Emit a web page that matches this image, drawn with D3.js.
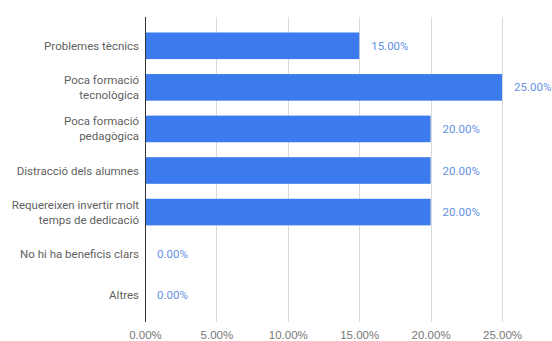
<!DOCTYPE html>
<html>
<head>
<meta charset="utf-8">
<script src="https://cdn.jsdelivr.net/npm/d3@7"></script>
<style>
  html, body { margin: 0; padding: 0; background: #fff; }
  svg { display: block; font-family: Roboto, "Noto Sans", sans-serif; }
</style>
</head>
<body>
<svg id="chart" width="552" height="341"></svg>
<script>
// Reasons / obstacles and the share of answers for each
const categories = [
  ["Problemes tècnics"],
  ["Poca formació", "tecnològica"],
  ["Poca formació", "pedagògica"],
  ["Distracció dels alumnes"],
  ["Requereixen invertir molt", "temps de dedicació"],
  ["No hi ha beneficis clars"],
  ["Altres"]
];
const values = [15, 25, 20, 20, 20, 0, 0];
const ticks = [0, 5, 10, 15, 20, 25];

const svg = d3.select("#chart");
const plotLeft = 145, plotRight = 502, plotTop = 17, plotBottom = 322;

const x = d3.scaleLinear().domain([0, 25]).range([plotLeft, plotRight]);
const y = d3.scaleBand()
  .domain(d3.range(categories.length))
  .range([25, 316])
  .paddingInner(0.36)
  .paddingOuter(0.18);

const fmt = v => v.toFixed(2) + "%";

// vertical gridlines
svg.append("g")
  .selectAll("line")
  .data(ticks.filter(t => t > 0))
  .join("line")
  .attr("x1", d => Math.round(x(d)) + 0.5)
  .attr("x2", d => Math.round(x(d)) + 0.5)
  .attr("y1", plotTop)
  .attr("y2", plotBottom)
  .attr("stroke", "#d9d9d9")
  .attr("stroke-width", 1);

// x axis tick labels
const xAxis = d3.axisBottom(x).tickValues(ticks).tickFormat(fmt).tickSize(0).tickPadding(0);
const gx = svg.append("g").attr("transform", `translate(0,${plotBottom + 9})`).call(xAxis);
gx.select(".domain").remove();
gx.selectAll("text")
  .attr("dy", "0.71em")
  .attr("fill", "#777")
  .attr("font-size", 11.5);

// bars
svg.append("g")
  .selectAll("rect")
  .data(values)
  .join("rect")
  .attr("x", x(0))
  .attr("y", (d, i) => y(i))
  .attr("width", d => x(d) - x(0))
  .attr("height", y.bandwidth())
  .attr("fill", "#3b7bed");

// value labels
svg.append("g")
  .selectAll("text")
  .data(values)
  .join("text")
  .attr("x", d => x(d) + 12)
  .attr("y", (d, i) => y(i) + y.bandwidth() / 2)
  .attr("dy", "0.35em")
  .attr("fill", "#6690e4")
  .attr("font-size", 11.5)
  .text(fmt);

// category labels
const yl = svg.append("g");
categories.forEach((lines, i) => {
  const cy = y(i) + y.bandwidth() / 2;
  const t = yl.append("text")
    .attr("text-anchor", "end")
    .attr("fill", "#5f5f5f")
    .attr("font-size", 11.5);
  lines.forEach((ln, k) => {
    t.append("tspan")
      .attr("x", 139)
      .attr("y", cy + (k - (lines.length - 1) / 2) * 15)
      .attr("dy", "0.35em")
      .text(ln);
  });
});

// baseline axis
svg.append("line")
  .attr("x1", x(0) + 0.5)
  .attr("x2", x(0) + 0.5)
  .attr("y1", plotTop)
  .attr("y2", plotBottom)
  .attr("stroke", "#333")
  .attr("stroke-width", 1);
</script>
</body>
</html>
